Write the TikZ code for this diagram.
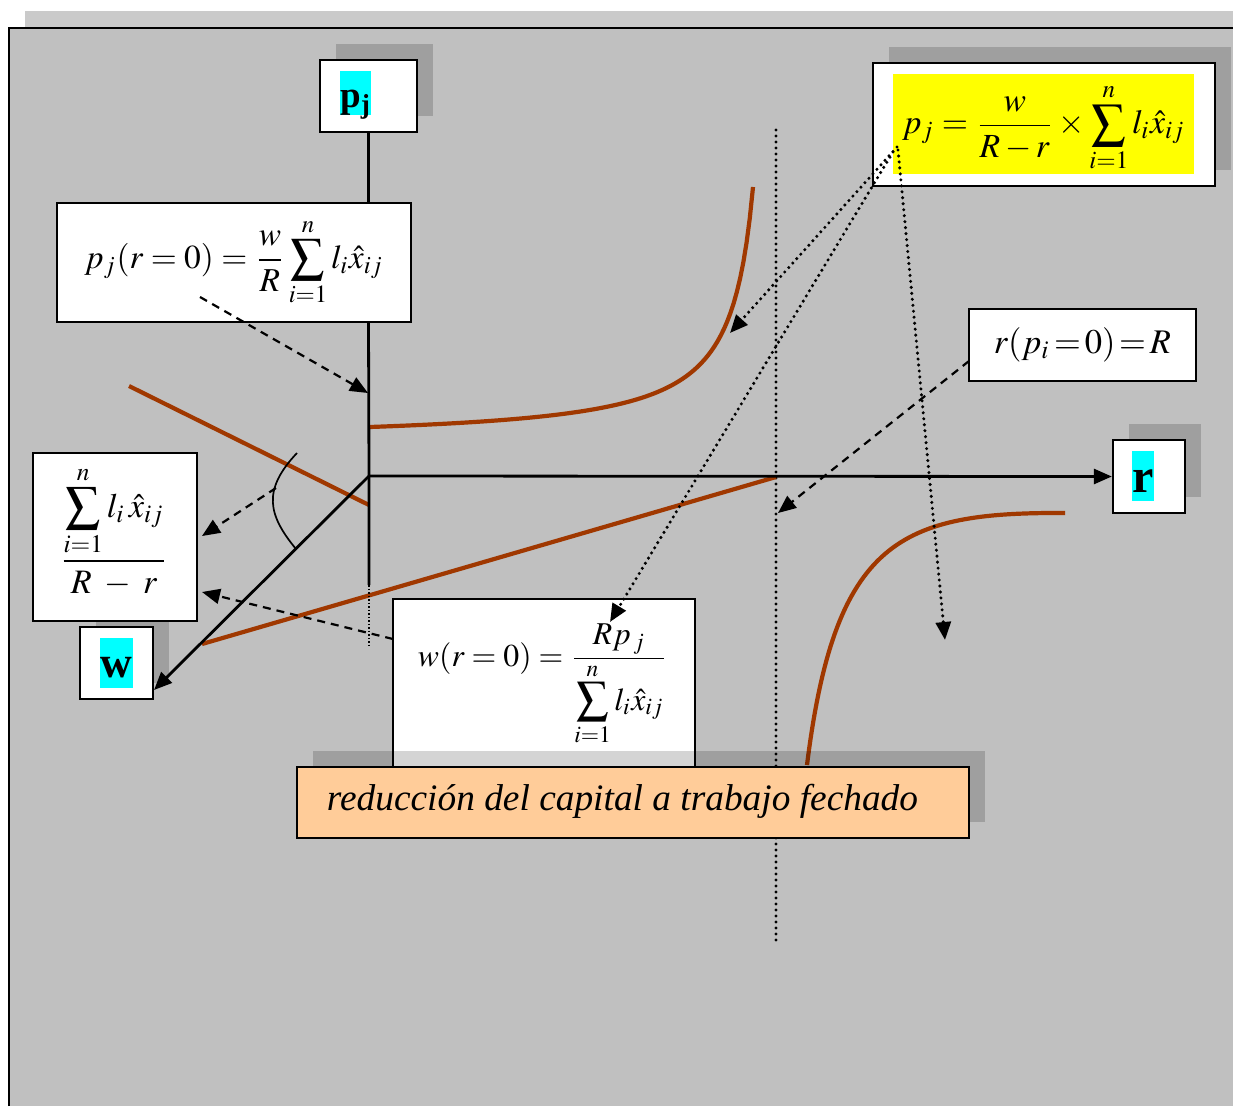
\documentclass[tikz,border=0pt]{standalone}
\usepackage{mathptmx}
\usepackage{fontspec}
\setmainfont{Liberation Serif}
\usetikzlibrary{arrows.meta,shadows,calc}
\definecolor{panel}{RGB}{192,192,192}
\definecolor{band}{RGB}{202,202,202}
\definecolor{brn}{RGB}{160,56,0}
\definecolor{orng}{RGB}{255,204,153}
\definecolor{hcyan}{RGB}{0,255,255}
\definecolor{hyel}{RGB}{255,255,0}
\begin{document}
\begin{tikzpicture}[x=1pt,y=-1pt,
  box/.style={draw=black,line width=2.3pt,fill=white,inner sep=0pt},
  shd/.style={drop shadow={shadow xshift=16pt,shadow yshift=16pt,fill=black,opacity=0.17}},
  hl/.style={fill=hcyan,inner xsep=0.5pt,inner ysep=0pt},
  axis/.style={line width=2.8pt},
  tip/.style={-{Triangle[length=18pt,width=15pt]}},
  crv/.style={draw=brn,line width=4.2pt},
  dsh/.style={line width=2.2pt,dash pattern=on 8pt off 6pt},
  dot/.style={line width=3.4pt,line cap=round,dash pattern=on 0pt off 6pt},
  fdot/.style={line width=1.4pt,dash pattern=on 1.5pt off 2pt},
]
% background
\fill[white] (0,0) rectangle (1233,1106);
\useasboundingbox (0,0) rectangle (1233,1106);
\fill[band] (25,11) rectangle (1233,27);
\fill[panel] (8,27) rectangle (1233,1106);
\draw[line width=2.4pt] (9,1106) -- (9,28) -- (1233,28);

% coordinates
\coordinate (O) at (369,476);
\coordinate (axbot) at (369,585);
\coordinate (axdot) at (369,645);
\coordinate (wtip) at (154,690);
\coordinate (Rtop) at (776,130);
\coordinate (Rbot) at (776,942);

% dotted asymptote r=R
\draw[dot] (Rtop) -- (Rbot);

% brown curves and lines
\draw[crv] plot[domain=370:753,samples=120] (\x,{441.4-5852/(776-\x)});
\draw[crv] (807,765) .. controls (835,540) and (900,512) .. (1065,513);
\draw[crv] (129,386) -- (369,505);
\draw[crv] (202,644) -- (776,477);

% angle mark
\draw[line width=1.7pt] (297,453) .. controls (262,490) and (268,515) .. (296,549);

% boxes
\node[box,shd,minimum width=97pt,minimum height=72pt] (pjbox) at (368.5,96) {};
\node[hl,text height=36pt,text depth=8pt] (pjt) at (355.5,93) {\fontsize{37}{40}\selectfont\textbf{p\textsubscript{j}}};

\node[box,minimum width=354pt,minimum height=119pt] (pjr) at (234,262.5)
  {\resizebox{299pt}{!}{$\displaystyle p_j(r=0)=\frac{w}{R}\sum_{i=1}^{n}l_i\hat{x}_{ij}$}};

\node[box,shd,minimum width=342pt,minimum height=123pt] (ybox) at (1044,124.5) {};
\node[fill=hyel,inner sep=0pt,minimum width=301pt,minimum height=100pt] (yfill) at (1043.5,124) {};
\node[inner sep=0pt] (yform) at (1043.5,128)
  {\resizebox{283pt}{!}{$\displaystyle p_j=\frac{w}{R-r}\times\sum_{i=1}^{n}l_i\hat{x}_{ij}$}};

\node[box,minimum width=227pt,minimum height=72pt] (rpbox) at (1082.5,345)
  {\resizebox{177pt}{!}{$r(p_i\!=\!0)\!=\!R$}};

\node[box,shd,minimum width=72pt,minimum height=73pt] (rbox) at (1149,476.5) {};
\node[hl,text height=41pt,text depth=9pt] (rt) at (1143,476) {\fontsize{48}{50}\selectfont\textbf{r}};

\node[box,shd,minimum width=73pt,minimum height=72pt] (wbox) at (116.5,663) {};
\node[hl,text height=39pt,text depth=11pt] (wt) at (116.5,663) {\fontsize{44}{46}\selectfont\textbf{w}};

\node[box,minimum width=164pt,minimum height=168pt] (fbox) at (115,537) {};
\node[inner sep=0pt] (fform) at (114,531)
  {\resizebox{109pt}{!}{$\displaystyle\frac{\displaystyle\sum_{i=1}^{n}l_i\,\hat{x}_{ij}}{R\;-\;r}$}};

\node[box,minimum width=302pt,minimum height=176pt] (wrbox) at (544,687) {};
\node[inner sep=0pt] (wform) at (543,685)
  {\resizebox{250pt}{!}{$\displaystyle w(r=0)=\frac{Rp_{\,j}}{\displaystyle\sum_{i=1}^{n}l_i\hat{x}_{ij}}$}};

\node[box,shd,fill=orng,minimum width=672pt,minimum height=71pt] (obox) at (633,802.5) {};
\node[inner sep=0pt] (otext) at (622.5,801)
  {\resizebox{591pt}{!}{\itshape reducción del capital a trabajo fechado}};

% axes
\draw[axis] (pjbox.south) -- (pjbox.south |- pjr.north);
\draw[axis] (pjbox.south |- pjr.south) -- (O) -- (axbot);
\draw[fdot] (axbot) -- (axdot);
\draw[axis,tip] (O) -- (rbox.west);
\draw[axis,tip] (O) -- (wtip);

% dashed arrows
\coordinate (d1s) at (200,297);
\coordinate (d1e) at (368,393);
\coordinate (d2s) at (276,488);
\coordinate (d2e) at (202,536);
\coordinate (d3s) at (393,639);
\coordinate (d3e) at (202,592);
\coordinate (d4s) at (969,361);
\coordinate (d4e) at (778,513);
\draw[dsh,tip] (d1s) -- (d1e);
\draw[dsh,tip] (d2s) -- (d2e);
\draw[dsh,tip] (d3s) -- (d3e);
\draw[dsh,tip] (d4s) -- (d4e);

% dotted arrows from p_j
\coordinate (ps1) at (897,147);
\coordinate (ps2) at (893,152);
\coordinate (ps3) at (898,150);
\coordinate (pe1) at (730,333);
\coordinate (pe2) at (610,622);
\coordinate (pe3) at (945,640);
\draw[dot,tip] (ps1) -- (pe1);
\draw[dot,tip] (ps2) -- (pe2);
\draw[dot,tip] (ps3) -- (pe3);
\end{tikzpicture}
\end{document}
